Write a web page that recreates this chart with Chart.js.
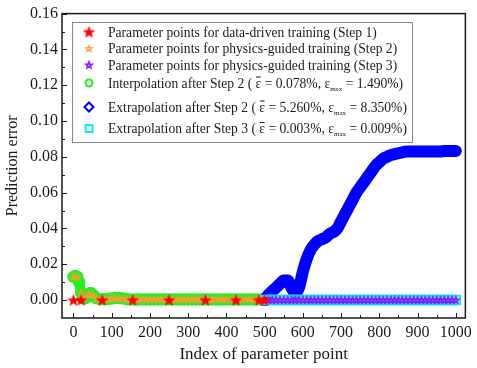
<!DOCTYPE html>
<html lang="en">
<head>
<meta charset="UTF-8">
<title>Prediction error</title>
<style>
    body { margin: 0; background: #fff; }
    #wrap { width: 477px; height: 368px; }
</style>
<script src="https://cdn.jsdelivr.net/npm/chart.js"></script>
</head>
<body>
<div id="wrap"><canvas id="grafico"></canvas></div>
<script>
// --- data ---
const xTicks = [0, 100, 200, 300, 400, 500, 600, 700, 800, 900, 1000];
const yTicks = [0, 0.02, 0.04, 0.06, 0.08, 0.10, 0.12, 0.14, 0.16];

// Step 1: data-driven training points (red stars)
const step1Idx = [0, 20, 75, 155, 250, 345, 425, 485, 500];
const step1Err = [0, 0, 0, 0, 0, 0, 0, 0, 0];

// Step 2: physics-guided training points (orange stars)
const step2Idx = [0, 10, 20, 30, 40, 50, 60, 70, 80, 90, 100, 110, 120, 130, 140, 150, 160, 170, 180, 190, 200,
                  210, 220, 230, 240, 250, 260, 270, 280, 290, 300, 310, 320, 330, 340, 350, 360, 370, 380, 390, 400,
                  410, 420, 430, 440, 450, 460, 470, 480, 490];
const step2Err = [0.013, 0.013, 0.004, 0.001, 0.0035, 0.003, 0.001, 0.0005, 0.0005, 0.0006, 0.0008, 0.001, 0.001, 0.0008, 0.0005, 0.0005, 0.0005, 0.0005, 0.0005, 0.0005, 0.0005,
                  0.0005, 0.0005, 0.0005, 0.0005, 0.0005, 0.0005, 0.0005, 0.0005, 0.0005, 0.0005, 0.0005, 0.0005, 0.0005, 0.0005, 0.0005, 0.0005, 0.0005, 0.0005, 0.0005, 0.0005,
                  0.0005, 0.0005, 0.0005, 0.0005, 0.0005, 0.0005, 0.0005, 0.0005, 0.0005];

// Step 3: physics-guided training points (purple stars)
const step3Idx = [510, 520, 530, 540, 550, 560, 570, 580, 590, 600, 610, 620, 630, 640, 650, 660, 670, 680, 690, 700,
                  710, 720, 730, 740, 750, 760, 770, 780, 790, 800, 810, 820, 830, 840, 850, 860, 870, 880, 890, 900,
                  910, 920, 930, 940, 950, 960, 970, 980, 990, 1000];
const step3Err = [0.0001, 0.0001, 0.0001, 0.0001, 0.0001, 0.0001, 0.0001, 0.0001, 0.0001, 0.0001, 0.0001, 0.0001, 0.0001, 0.0001, 0.0001, 0.0001, 0.0001, 0.0001, 0.0001, 0.0001,
                  0.0001, 0.0001, 0.0001, 0.0001, 0.0001, 0.0001, 0.0001, 0.0001, 0.0001, 0.0001, 0.0001, 0.0001, 0.0001, 0.0001, 0.0001, 0.0001, 0.0001, 0.0001, 0.0001, 0.0001,
                  0.0001, 0.0001, 0.0001, 0.0001, 0.0001, 0.0001, 0.0001, 0.0001, 0.0001, 0.0001];

// interpolation after step 2 (green circles)
const interpIdx = [0, 5, 10, 15, 20, 25, 30, 35, 40, 45, 50, 55, 60, 70, 80, 90, 100, 110, 120, 130, 140, 150,
                   160, 170, 180, 190, 200, 210, 220, 230, 240, 250, 260, 270, 280, 290, 300, 310, 320, 330, 340,
                   350, 360, 370, 380, 390, 400, 410, 420, 430, 440, 450, 460, 470, 480, 490, 500];
const interpErr = [0.013, 0.0135, 0.013, 0.010, 0.004, 0.001, 0.001, 0.002, 0.0035, 0.004, 0.003, 0.002, 0.001, 0.0005, 0.0005, 0.0006, 0.0009, 0.0012, 0.0012, 0.0009, 0.0005, 0.0004,
                   0.0004, 0.0004, 0.0004, 0.0004, 0.0004, 0.0004, 0.0004, 0.0004, 0.0004, 0.0004, 0.0004, 0.0004, 0.0004, 0.0004, 0.0004, 0.0004, 0.0004, 0.0004, 0.0004,
                   0.0004, 0.0004, 0.0004, 0.0004, 0.0004, 0.0004, 0.0004, 0.0004, 0.0004, 0.0004, 0.0004, 0.0004, 0.0004, 0.0004, 0.0004, 0.0004];

// extrapolation after step 2 (blue diamonds)
const extra2Idx = [500, 510, 520, 530, 540, 550, 560, 570, 580, 590, 600, 610, 620, 630, 640, 650, 660, 670, 680, 690, 700,
                   710, 720, 730, 740, 750, 760, 770, 780, 790, 800, 810, 820, 830, 840, 850, 860, 870, 880, 890, 900,
                   910, 920, 930, 940, 950, 960, 970, 980, 990, 1000];
const extra2Err = [0.000, 0.003, 0.005, 0.007, 0.009, 0.011, 0.011, 0.007, 0.004, 0.007, 0.016, 0.023, 0.028, 0.031, 0.033, 0.034, 0.035, 0.037, 0.038, 0.040, 0.044,
                   0.048, 0.052, 0.056, 0.060, 0.063, 0.066, 0.069, 0.072, 0.075, 0.077, 0.079, 0.080, 0.081, 0.0815, 0.082, 0.0825, 0.083, 0.083, 0.083, 0.083,
                   0.083, 0.083, 0.083, 0.083, 0.083, 0.083, 0.0832, 0.0832, 0.0833, 0.0833];

// extrapolation after step 3 (cyan squares)
const extra3Idx = [500, 510, 520, 530, 540, 550, 560, 570, 580, 590, 600, 610, 620, 630, 640, 650, 660, 670, 680, 690, 700,
                   710, 720, 730, 740, 750, 760, 770, 780, 790, 800, 810, 820, 830, 840, 850, 860, 870, 880, 890, 900,
                   910, 920, 930, 940, 950, 960, 970, 980, 990, 1000];
const extra3Err = [0.00003, 0.00005, 0.00004, 0.00006, 0.00005, 0.00004, 0.00005, 0.00006, 0.00005, 0.00004, 0.00005, 0.00006, 0.00005, 0.00004, 0.00005, 0.00006, 0.00005, 0.00004, 0.00005, 0.00006, 0.00005,
                   0.00004, 0.00005, 0.00006, 0.00005, 0.00004, 0.00005, 0.00006, 0.00005, 0.00004, 0.00005, 0.00006, 0.00005, 0.00004, 0.00005, 0.00006, 0.00005, 0.00004, 0.00005, 0.00006, 0.00005,
                   0.00004, 0.00005, 0.00006, 0.00005, 0.00004, 0.00005, 0.00006, 0.00005, 0.00004, 0.00005];

// legend rows, strings and {bar} / {sub} pieces
const legendRows = [
    ['Parameter points for data-driven training (Step 1)'],
    ['Parameter points for physics-guided training (Step 2)'],
    ['Parameter points for physics-guided training (Step 3)'],
    ['Interpolation after Step 2 ( ', {bar: 'ε'}, ' = 0.078%, ε', {sub: 'max'}, ' = 1.490%)'],
    ['Extrapolation after Step 2 ( ', {bar: 'ε'}, ' = 5.260%, ε', {sub: 'max'}, ' = 8.350%)'],
    ['Extrapolation after Step 3 ( ', {bar: 'ε'}, ' = 0.003%, ε', {sub: 'max'}, ' = 0.009%)']
];

const SERIF = '"Liberation Serif", "Times New Roman", serif';
const RED = '#ff0000', ORANGE = '#ff9a30', PURPLE = '#8a1cff', GREEN = '#22f022', BLUE = '#0000ff', CYAN = '#00f0ff';
const INK = '#1a1a1a';

function pts(xs, ys) {
    return xs.map((v, i) => ({x: v, y: ys[i]}));
}

// small star image used as point style
function starImg(size, fill, stroke, lw) {
    const c = document.createElement('canvas');
    c.width = size; c.height = size;
    const g = c.getContext('2d');
    const r = size / 2 - lw, ri = r * 0.42, cx = size / 2, cy = size / 2 + r * 0.08;
    g.beginPath();
    for (let i = 0; i < 10; i++) {
        const rr = i % 2 ? ri : r;
        const a = -Math.PI / 2 + i * Math.PI / 5;
        g.lineTo(cx + rr * Math.cos(a), cy + rr * Math.sin(a));
    }
    g.closePath();
    if (fill) { g.fillStyle = fill; g.fill(); }
    if (stroke) { g.strokeStyle = stroke; g.lineWidth = lw; g.stroke(); }
    return c;
}

const redStar = starImg(13, RED, RED, 0.5);
const orangeStar = starImg(9, null, ORANGE, 1.3);
const purpleStar = starImg(10, null, PURPLE, 1.6);

// frame and inward ticks
const framePlugin = {
    id: 'frame',
    beforeDatasetsDraw(chart) {
        const {ctx, chartArea: a, scales: {x, y}} = chart;
        ctx.save();
        ctx.strokeStyle = INK;
        ctx.lineWidth = 1;
        ctx.beginPath();
        xTicks.forEach((v, i) => {
            const px = Math.round(x.getPixelForValue(v)) + 0.5;
            ctx.moveTo(px, a.bottom); ctx.lineTo(px, a.bottom - 5);
            if (i < xTicks.length - 1) {
                const pm = Math.round(x.getPixelForValue((v + xTicks[i + 1]) / 2)) + 0.5;
                ctx.moveTo(pm, a.bottom); ctx.lineTo(pm, a.bottom - 3);
            }
        });
        yTicks.forEach((v, i) => {
            const py = Math.round(y.getPixelForValue(v)) + 0.5;
            ctx.moveTo(a.left, py); ctx.lineTo(a.left + 5, py);
            if (i < yTicks.length - 1) {
                const pm = Math.round(y.getPixelForValue((v + yTicks[i + 1]) / 2)) + 0.5;
                ctx.moveTo(a.left, pm); ctx.lineTo(a.left + 3, pm);
            }
        });
        ctx.stroke();
        ctx.lineWidth = 1.5;
        ctx.strokeRect(a.left, a.top, a.right - a.left, a.bottom - a.top);
        ctx.restore();
    }
};

function drawRich(ctx, x, y, parts) {
    parts.forEach(p => {
        if (typeof p === 'string') {
            ctx.font = '13.6px ' + SERIF;
            ctx.fillText(p, x, y);
            x += ctx.measureText(p).width;
        } else if (p.bar) {
            ctx.font = '13.6px ' + SERIF;
            ctx.fillText(p.bar, x, y);
            const w = ctx.measureText(p.bar).width;
            ctx.fillRect(x + 0.5, y - 11, w - 1, 1);
            x += w;
        } else if (p.sub) {
            ctx.font = '7px ' + SERIF;
            ctx.fillText(p.sub, x, y + 3);
            x += ctx.measureText(p.sub).width;
        }
    });
}

const legendPlugin = {
    id: 'boxLegend',
    afterDraw(chart) {
        const ctx = chart.ctx;
        const bx = 72, by = 22, bw = 340, bh = 120;
        const rowsY = [32, 48.5, 65, 83, 107, 128.5];
        ctx.save();
        ctx.fillStyle = '#fff';
        ctx.fillRect(bx, by, bw, bh);
        ctx.strokeStyle = '#888';
        ctx.lineWidth = 1;
        ctx.strokeRect(bx + 0.5, by + 0.5, bw, bh);

        const mx = 89;
        ctx.drawImage(redStar, mx - 6.5, rowsY[0] - 6.5);
        ctx.drawImage(orangeStar, mx - 4.5, rowsY[1] - 4.5);
        ctx.drawImage(purpleStar, mx - 5, rowsY[2] - 5);
        ctx.lineWidth = 2;
        ctx.strokeStyle = GREEN;
        ctx.beginPath(); ctx.arc(mx, rowsY[3], 3.5, 0, Math.PI * 2); ctx.stroke();
        ctx.strokeStyle = BLUE;
        ctx.beginPath();
        ctx.moveTo(mx, rowsY[4] - 4.5); ctx.lineTo(mx + 4.5, rowsY[4]);
        ctx.lineTo(mx, rowsY[4] + 4.5); ctx.lineTo(mx - 4.5, rowsY[4]); ctx.closePath();
        ctx.stroke();
        ctx.strokeStyle = CYAN;
        ctx.strokeRect(mx - 3.5, rowsY[5] - 3.5, 7, 7);

        ctx.fillStyle = INK;
        ctx.textBaseline = 'alphabetic';
        legendRows.forEach((row, i) => drawRich(ctx, 108, rowsY[i] + 4.5, row));
        ctx.restore();
    }
};

const ctx = document.getElementById('grafico').getContext('2d');
const chart = new Chart(ctx, {
    type: 'scatter',
    data: {
        datasets: [
            {
                label: 'Step 1',
                data: pts(step1Idx, step1Err),
                pointStyle: redStar,
                pointRadius: 6.5
            },
            {
                label: 'Step 2',
                data: pts(step2Idx, step2Err),
                pointStyle: orangeStar,
                pointRadius: 4.5
            },
            {
                label: 'Step 3',
                data: pts(step3Idx, step3Err),
                pointStyle: purpleStar,
                pointRadius: 5
            },
            {
                label: 'Extrapolation Step 3',
                data: pts(extra3Idx, extra3Err),
                pointStyle: 'rect',
                pointRadius: 6,
                borderColor: CYAN,
                backgroundColor: 'rgba(0,0,0,0)',
                borderWidth: 2
            },
            {
                label: 'Extrapolation Step 2',
                data: pts(extra2Idx, extra2Err),
                showLine: true,
                cubicInterpolationMode: 'monotone',
                borderColor: BLUE,
                borderWidth: 12,
                borderCapStyle: 'round',
                borderJoinStyle: 'round',
                pointStyle: 'rectRot',
                pointRadius: 5.5,
                pointBorderColor: BLUE,
                pointBackgroundColor: BLUE,
                pointBorderWidth: 1
            },
            {
                label: 'Interpolation Step 2',
                data: pts(interpIdx, interpErr),
                showLine: true,
                borderColor: GREEN,
                borderWidth: 10,
                pointStyle: 'circle',
                pointRadius: 5,
                pointBorderColor: GREEN,
                pointBackgroundColor: 'rgba(0,0,0,0)',
                pointBorderWidth: 2.5
            }
        ]
    },
    options: {
        animation: false,
        responsive: true,
        maintainAspectRatio: false,
        devicePixelRatio: 1,
        layout: { padding: { top: 12, right: 4, left: 0, bottom: 0 } },
        plugins: {
            legend: { display: false },
            tooltip: { enabled: false }
        },
        scales: {
            x: {
                type: 'linear',
                min: -30,
                max: 1025,
                afterBuildTicks: s => { s.ticks = xTicks.map(v => ({value: v})); },
                afterFit: s => { s.height = 50; },
                grid: { display: false, drawTicks: false },
                border: { display: false },
                ticks: {
                    color: INK,
                    font: { family: SERIF, size: 16 },
                    padding: 5,
                    maxRotation: 0,
                    autoSkip: false,
                    callback: v => String(v)
                },
                title: {
                    display: true,
                    text: 'Index of parameter point',
                    color: INK,
                    font: { family: SERIF, size: 17 },
                    padding: { top: 0, bottom: 3 }
                }
            },
            y: {
                min: -0.01,
                max: 0.16,
                afterBuildTicks: s => { s.ticks = yTicks.map(v => ({value: v})); },
                afterFit: s => { s.width = 62; },
                grid: { display: false, drawTicks: false },
                border: { display: false },
                ticks: {
                    color: INK,
                    font: { family: SERIF, size: 16 },
                    padding: 4,
                    autoSkip: false,
                    callback: v => v.toFixed(2)
                },
                title: {
                    display: true,
                    text: 'Prediction error',
                    color: INK,
                    font: { family: SERIF, size: 16 },
                    padding: { top: 3, bottom: 0 }
                }
            }
        }
    },
    plugins: [framePlugin, legendPlugin]
});
</script>
</body>
</html>
